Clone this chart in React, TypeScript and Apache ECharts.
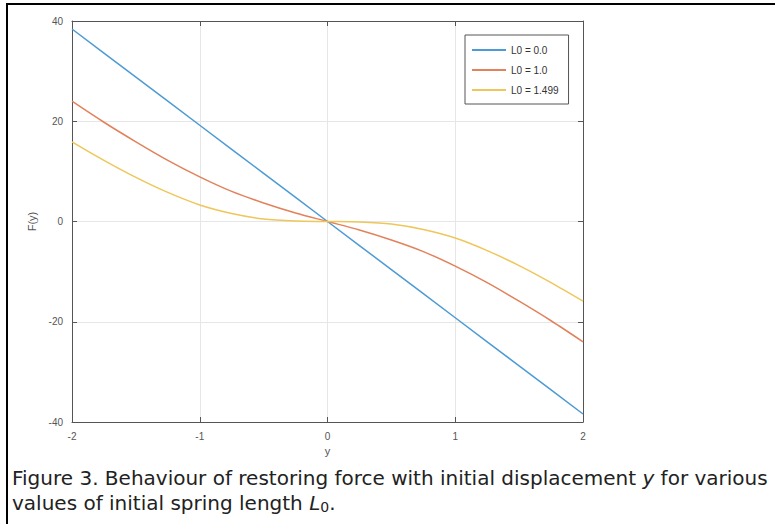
import React, { useEffect, useRef } from "react";
import * as echarts from "echarts";

const xValues = [-2, -1.75, -1.5, -1.25, -1, -0.75, -0.5, -0.25, 0, 0.25, 0.5, 0.75, 1, 1.25, 1.5, 1.75, 2];
const seriesNames = ["L0 = 0.0", "L0 = 1.0", "L0 = 1.499"];
const blueValues = [38.4, 33.6, 28.8, 24.0, 19.2, 14.4, 9.6, 4.8, 0, -4.8, -9.6, -14.4, -19.2, -24.0, -28.8, -33.6, -38.4];
const orangeValues = [24.0, 19.8, 15.9, 12.2, 8.9, 6.0, 3.7, 1.7, 0, -1.7, -3.7, -6.0, -8.9, -12.2, -15.9, -19.8, -24.0];
const yellowValues = [15.9, 12.2, 8.8, 5.8, 3.3, 1.6, 0.5, 0.1, 0, -0.1, -0.5, -1.6, -3.3, -5.8, -8.8, -12.2, -15.9];
const colors = ["#4d9bd5", "#e2825c", "#eec65a"];

const captionLine1 = "Figure 3. Behaviour of restoring force with initial displacement ";
const captionLine1End = " for various";
const captionLine2 = "values of initial spring length ";

export default function App() {
  const ref = useRef<HTMLDivElement>(null);
  useEffect(() => {
    document.body.style.margin = "0";
    const chart = echarts.init(ref.current!, null, { renderer: "svg" });
    const pair = (vals: number[]) => xValues.map((x, i) => [x, vals[i]]);
    const axisLine = { show: true, onZero: false, lineStyle: { color: "#555", width: 1 } };
    const tick = { show: true, inside: true, length: 5, lineStyle: { color: "#555" } };
    const capFont = "'DejaVu Sans', sans-serif";
    const capSize = 20;
    const lblFont = "'Liberation Sans', Arial, sans-serif";
    chart.setOption({
      animation: false,
      backgroundColor: "#fff",
      grid: { left: 72, right: 192, top: 21, bottom: 102, containLabel: false },
      legend: {
        orient: "vertical",
        left: 465,
        top: 35,
        data: seriesNames,
        icon: "rect",
        itemWidth: 34,
        itemHeight: 2,
        itemGap: 10,
        padding: [10, 10, 9, 7],
        borderColor: "#555",
        borderWidth: 1,
        textStyle: { fontSize: 10, color: "#333", fontFamily: lblFont },
      },
      xAxis: [
        {
          type: "value", min: -2, max: 2, interval: 1,
          name: "y", nameLocation: "middle", nameGap: 22,
          nameTextStyle: { color: "#555", fontSize: 11, fontFamily: lblFont },
          axisLine, axisTick: tick,
          axisLabel: { color: "#555", fontSize: 10, margin: 9, fontFamily: lblFont },
          splitLine: { show: true, lineStyle: { color: "#e6e6e6" } },
        },
        {
          type: "value", position: "top", min: -2, max: 2, interval: 1,
          axisLine, axisTick: tick, axisLabel: { show: false }, splitLine: { show: false },
        },
      ],
      yAxis: [
        {
          type: "value", min: -40, max: 40, interval: 20,
          name: "F(y)", nameLocation: "middle", nameGap: 34, nameRotate: 90,
          nameTextStyle: { color: "#555", fontSize: 11, fontFamily: lblFont },
          axisLine, axisTick: tick,
          axisLabel: { color: "#555", fontSize: 10, margin: 9, fontFamily: lblFont },
          splitLine: { show: true, lineStyle: { color: "#e6e6e6" } },
        },
        {
          type: "value", position: "right", min: -40, max: 40, interval: 20,
          axisLine, axisTick: tick, axisLabel: { show: false }, splitLine: { show: false },
        },
      ],
      series: [
        { name: seriesNames[0], type: "line", data: pair(blueValues), showSymbol: false, lineStyle: { width: 1.5, color: colors[0] }, itemStyle: { color: colors[0] } },
        { name: seriesNames[1], type: "line", data: pair(orangeValues), showSymbol: false, smooth: 0.3, lineStyle: { width: 1.5, color: colors[1] }, itemStyle: { color: colors[1] } },
        { name: seriesNames[2], type: "line", data: pair(yellowValues), showSymbol: false, smooth: 0.3, lineStyle: { width: 1.5, color: colors[2] }, itemStyle: { color: colors[2] } },
      ],
      graphic: [
        { type: "rect", left: 6, top: 3, shape: { width: 2, height: 521 }, style: { fill: "#000" } },
        { type: "rect", left: 6, top: 3, shape: { width: 769, height: 2 }, style: { fill: "#000" } },
        {
          type: "text", left: 12, top: 468,
          style: {
            text: captionLine1 + "{i|y}" + captionLine1End,
            font: `${capSize}px ${capFont}`, fill: "#222",
            rich: { i: { fontStyle: "italic", fontSize: capSize, fontFamily: capFont, fill: "#222" } },
          },
        },
        {
          type: "text", left: 12, top: 493,
          style: {
            text: captionLine2 + "{i|L}{s|0}.",
            font: `${capSize}px ${capFont}`, fill: "#222",
            rich: {
              i: { fontStyle: "italic", fontSize: capSize, fontFamily: capFont, fill: "#222" },
              s: { fontSize: 14, fontFamily: capFont, fill: "#222", verticalAlign: "bottom", padding: [7, 0, 0, 0] },
            },
          },
        },
      ],
    });
    return () => chart.dispose();
  }, []);
  return <div ref={ref} style={{ width: 775, height: 524, position: "absolute", left: 0, top: 0 }} />;
}
